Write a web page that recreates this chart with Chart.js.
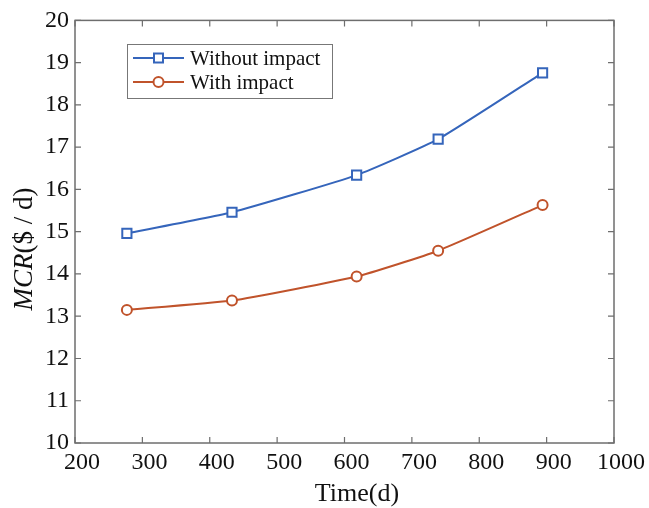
<!DOCTYPE html>
<html lang="en">
<head>
  <meta charset="UTF-8">
  <title>MCR over time</title>
  <script src="https://cdn.jsdelivr.net/npm/chart.js"></script>
  <style>
    body{margin:0;background:#ffffff;}
    #wrap{width:649px;height:508px;}
  </style>
</head>
<body>
  <div id="wrap"><canvas id="mcrChart" width="649" height="508"></canvas></div>
  <script>
    // values
    const timeDays = [277, 433, 618, 739, 894];
    const withoutImpact = [14.96, 15.46, 16.34, 17.19, 18.76];
    const withImpact = [13.15, 13.37, 13.94, 14.55, 15.63];
    const xTicks = [200, 300, 400, 500, 600, 700, 800, 900, 1000];
    const yTicks = [10, 11, 12, 13, 14, 15, 16, 17, 18, 19, 20];

    const serif = "'Liberation Serif', 'Times New Roman', serif";
    const blue = '#3565bb';
    const orange = '#c0532b';
    const boxColor = '#6e6e6e';

    // box, inward ticks on all sides, y title and legend (MATLAB-like)
    const frame = {
      id: 'frame',
      afterDraw(chart){
        const ctx = chart.ctx;
        const a = chart.chartArea;
        const xs = chart.scales.x, ys = chart.scales.y;
        ctx.save();
        ctx.strokeStyle = boxColor;
        ctx.lineWidth = 1.5;
        ctx.strokeRect(a.left, a.top, a.right - a.left, a.bottom - a.top);
        ctx.lineWidth = 1.2;
        ctx.beginPath();
        xTicks.forEach(v => {
          const px = xs.getPixelForValue(v);
          ctx.moveTo(px, a.bottom); ctx.lineTo(px, a.bottom - 6);
          ctx.moveTo(px, a.top); ctx.lineTo(px, a.top + 6);
        });
        yTicks.forEach(v => {
          const py = ys.getPixelForValue(v);
          ctx.moveTo(a.left, py); ctx.lineTo(a.left + 6, py);
          ctx.moveTo(a.right, py); ctx.lineTo(a.right - 6, py);
        });
        ctx.stroke();

        // x title
        ctx.fillStyle = '#111';
        ctx.font = '26px ' + serif;
        ctx.textAlign = 'center';
        ctx.textBaseline = 'middle';
        ctx.fillText('Time(d)', 357, 494);

        // y title, MCR in italics
        ctx.translate(25, 249);
        ctx.rotate(-Math.PI / 2);
        const italic = 'italic 27px ' + serif, normal = '27px ' + serif;
        ctx.font = italic; const w1 = ctx.measureText('MCR').width;
        ctx.font = normal; const w2 = ctx.measureText('($ / d)').width;
        let x0 = -(w1 + w2) / 2;
        ctx.textAlign = 'left';
        ctx.font = italic; ctx.fillText('MCR', x0, 0);
        ctx.font = normal; ctx.fillText('($ / d)', x0 + w1, 0);
        ctx.restore();

        // legend
        ctx.save();
        ctx.fillStyle = '#fff';
        ctx.fillRect(127, 44, 205, 54);
        ctx.strokeStyle = '#777';
        ctx.lineWidth = 1;
        ctx.strokeRect(127.5, 44.5, 205, 54);
        ctx.font = '21px ' + serif;
        ctx.textBaseline = 'middle';
        chart.data.datasets.forEach((ds, i) => {
          const cy = 58 + i * 24;
          ctx.strokeStyle = ds.borderColor;
          ctx.lineWidth = 2;
          ctx.beginPath(); ctx.moveTo(133, cy); ctx.lineTo(184, cy); ctx.stroke();
          ctx.fillStyle = '#fff';
          if (ds.pointStyle === 'rect') {
            ctx.fillRect(154, cy - 4.5, 9, 9);
            ctx.strokeRect(154, cy - 4.5, 9, 9);
          } else {
            ctx.beginPath(); ctx.arc(158.5, cy, 5, 0, Math.PI * 2); ctx.fill(); ctx.stroke();
          }
          ctx.fillStyle = '#111';
          ctx.fillText(ds.label, 190, cy + 1);
        });
        ctx.restore();
      }
    };

    new Chart(document.getElementById('mcrChart'), {
      type: 'line',
      data: {
        datasets: [{
          label: 'Without impact',
          data: timeDays.map((t, i) => ({x: t, y: withoutImpact[i]})),
          borderColor: blue,
          backgroundColor: '#fff',
          borderWidth: 2,
          pointStyle: 'rect',
          pointRadius: 6.5,
          pointBorderWidth: 2,
          tension: 0.15
        }, {
          label: 'With impact',
          data: timeDays.map((t, i) => ({x: t, y: withImpact[i]})),
          borderColor: orange,
          backgroundColor: '#fff',
          borderWidth: 2,
          pointStyle: 'circle',
          pointRadius: 5,
          pointBorderWidth: 2,
          tension: 0.15
        }]
      },
      options: {
        responsive: false,
        animation: false,
        layout: {padding: {top: 19, right: 35, left: 0, bottom: 0}},
        plugins: {legend: {display: false}, tooltip: {enabled: false}},
        scales: {
          x: {
            type: 'linear', min: 200, max: 1000,
            afterBuildTicks: s => { s.ticks = xTicks.map(v => ({value: v})); },
            afterFit: s => { s.height = 65; },
            grid: {display: false, drawTicks: false},
            border: {display: false},
            ticks: {color: '#111', font: {family: serif, size: 24}, padding: 5, maxRotation: 0,
                    labelOffset: 7, callback: v => String(v)}
          },
          y: {
            min: 10, max: 20,
            afterBuildTicks: s => { s.ticks = yTicks.map(v => ({value: v})); },
            afterFit: s => { s.width = 75; },
            grid: {display: false, drawTicks: false},
            border: {display: false},
            ticks: {color: '#111', font: {family: serif, size: 24}, padding: 6,
                    callback: v => String(v)}
          }
        }
      },
      plugins: [frame]
    });
  </script>
</body>
</html>
